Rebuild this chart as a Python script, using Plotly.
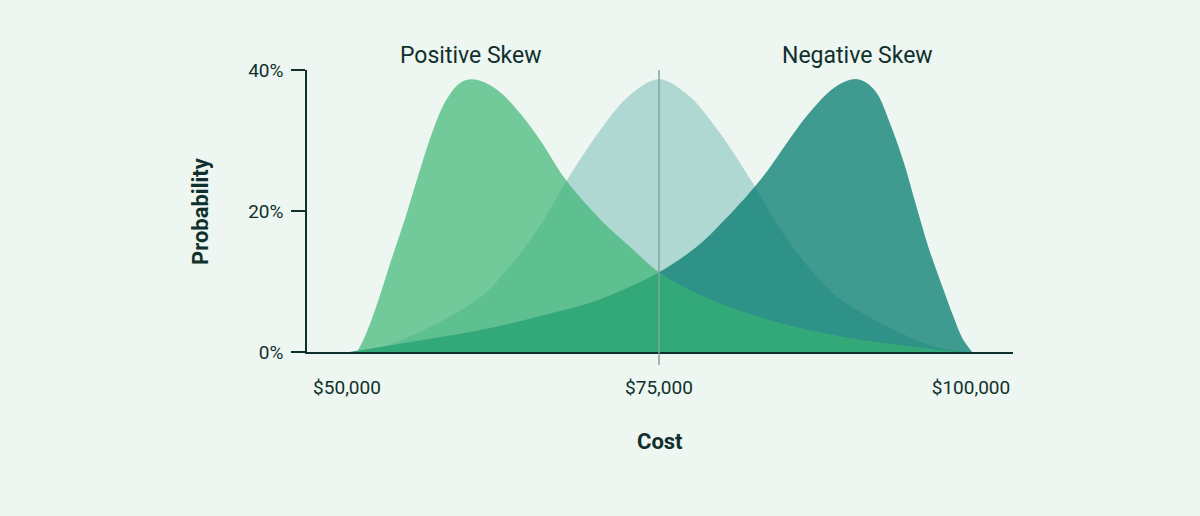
import plotly.graph_objects as go

# ---- data ----
pos_cost = [50800, 51200, 51800, 52600, 53500, 54600, 55700, 56800, 57900, 59000, 59900,
            61100, 62300, 63900, 65500, 67500, 70300, 72700, 75000, 78300, 82300, 86300,
            90300, 94300, 99100]
pos_prob = [0.0, 1.3, 3.8, 7.8, 12.8, 18.6, 25.0, 31.0, 35.6, 38.1, 38.7,
            38.2, 36.8, 33.8, 30.0, 24.5, 18.8, 14.9, 11.3, 8.1, 5.4, 3.4,
            2.0, 1.0, 0.0]

norm_cost = [50200, 52600, 56100, 60400, 62800, 65500, 67500, 70300, 72700, 75000,
             77300, 79700, 82500, 84500, 87200, 89600, 93900, 97400, 99800]
norm_prob = [0.0, 0.6, 3.1, 7.4, 11.6, 18.0, 24.0, 31.5, 36.5, 38.7,
             36.5, 31.5, 24.0, 18.0, 11.6, 7.4, 3.1, 0.6, 0.0]

neg_cost = [50200, 56100, 61500, 65900, 69500, 72700, 75000, 78000, 80400, 83300, 85300,
            86900, 88500, 89700, 90900, 91700, 92500, 93500, 94600, 95600, 96600, 97700,
            98600, 99300, 100100]
neg_prob = [0.0, 1.7, 3.4, 5.3, 7.0, 9.3, 11.3, 14.9, 19.0, 24.8, 29.8,
            33.6, 36.7, 38.2, 38.7, 38.1, 36.6, 32.5, 27.0, 20.8, 14.8, 9.3,
            5.0, 2.0, 0.0]

x_ticks = [50000, 75000, 100000]
x_tick_labels = ["$50,000", "$75,000", "$100,000"]
y_ticks = [0, 20, 40]
y_tick_labels = ["0%", "20%", "40%"]
mean_cost = [75000]
skew_labels = ["Positive Skew", "Negative Skew"]
skew_label_cost = [59900, 90900]

BG = "#EDF6F0"
DARK = "#10302D"

fig = go.Figure()
fig.add_trace(go.Scatter(x=norm_cost, y=norm_prob, mode="lines", fill="tozeroy",
                         line=dict(width=0, shape="spline", smoothing=1.0),
                         fillcolor="rgb(176,216,210)", hoverinfo="skip"))
fig.add_trace(go.Scatter(x=neg_cost, y=neg_prob, mode="lines", fill="tozeroy",
                         line=dict(width=0, shape="spline", smoothing=1.0),
                         fillcolor="rgba(4,123,111,0.75)", hoverinfo="skip"))
fig.add_trace(go.Scatter(x=pos_cost, y=pos_prob, mode="lines", fill="tozeroy",
                         line=dict(width=0, shape="spline", smoothing=1.0),
                         fillcolor="rgba(54,179,112,0.67)", hoverinfo="skip"))

for m in mean_cost:
    fig.add_shape(type="line", xref="x", yref="paper", x0=m, x1=m, y0=-0.046, y1=1.0,
                  line=dict(color="#86A39E", width=1.5), layer="above")

for lbl, c in zip(skew_labels, skew_label_cost):
    fig.add_annotation(x=c, xref="x", y=1.053, yref="paper", text=lbl, showarrow=False,
                       font=dict(family="Roboto", size=23, color=DARK),
                       xanchor="center", yanchor="middle")

fig.add_annotation(x=(200 - 307) / 706, xref="paper", y=0.5, yref="paper",
                   text="<b>Probability</b>", textangle=-90, showarrow=False,
                   font=dict(family="Roboto", size=22, color=DARK),
                   xanchor="center", yanchor="middle")
fig.add_annotation(x=0.5, xref="paper", y=(352 - 441) / 282, yref="paper",
                   text="<b>Cost</b>", showarrow=False,
                   font=dict(family="Roboto", size=22, color=DARK),
                   xanchor="center", yanchor="middle")

fig.update_layout(
    width=1200, height=516,
    margin=dict(l=307, r=187, t=70, b=164),
    paper_bgcolor=BG, plot_bgcolor=BG,
    showlegend=False, hovermode=False,
    font=dict(family="Roboto", color=DARK),
)
fig.update_xaxes(range=[46795, 103367], tickvals=x_ticks, ticktext=x_tick_labels,
                 showgrid=False, zeroline=False, showline=True, linecolor=DARK, linewidth=1.5,
                 ticks="", ticklabelstandoff=17, tickfont=dict(size=19, color=DARK))
fig.update_yaxes(range=[0, 40], tickvals=y_ticks, ticktext=y_tick_labels,
                 showgrid=False, zeroline=False, showline=True, linecolor=DARK, linewidth=1.5,
                 ticks="outside", ticklen=14, tickwidth=1.5, tickcolor=DARK,
                 ticklabelstandoff=4, tickfont=dict(size=19, color=DARK))

fig.write_html("out.html")
